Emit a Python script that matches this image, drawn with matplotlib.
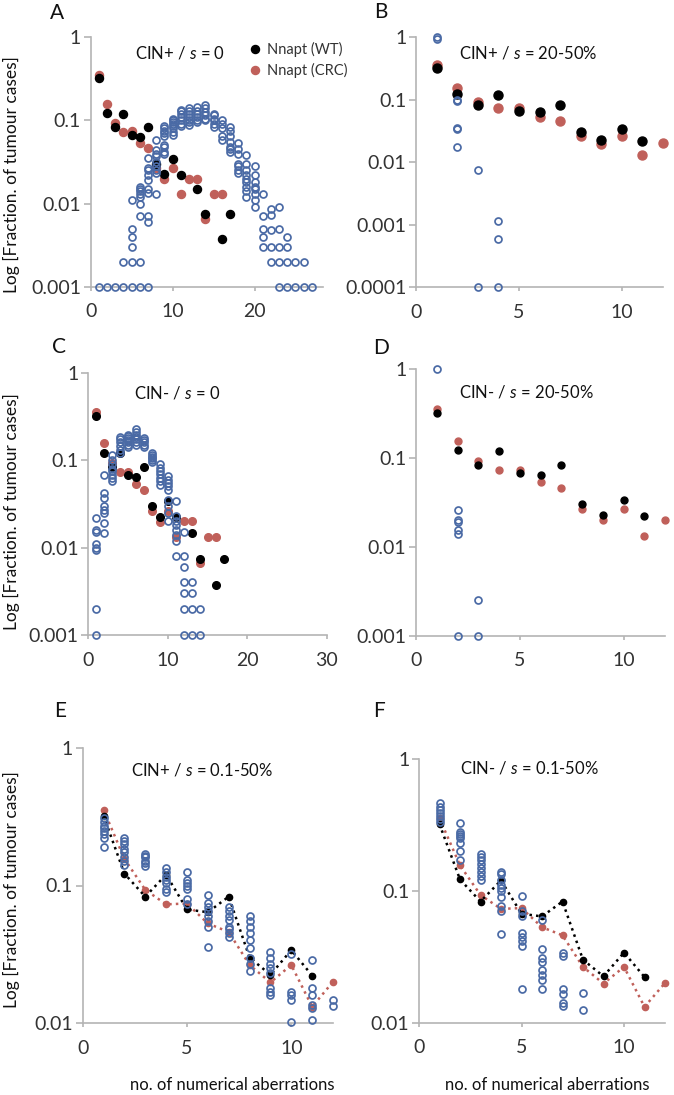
import numpy as np
import matplotlib
matplotlib.use("Agg")
import matplotlib.pyplot as plt
from matplotlib.ticker import FixedLocator, FixedFormatter

plt.rcParams['font.family'] = ['Lato', 'DejaVu Sans']
plt.rcParams['mathtext.fontset'] = 'custom'
plt.rcParams['mathtext.it'] = 'Lato:italic'
plt.rcParams['mathtext.rm'] = 'Lato'

# observed tumour data (same in every panel)
x_wt = [1, 2, 3, 4, 5, 6, 7, 8, 9, 10, 11, 13, 14, 16, 17]
y_wt = [0.32, 0.122, 0.083, 0.12, 0.067, 0.064, 0.083, 0.030, 0.0225, 0.034,
        0.0222, 0.0148, 0.0074, 0.0037, 0.0074]
x_crc = [1, 2, 3, 4, 5, 6, 7, 8, 9, 10, 11, 12, 13, 14, 15, 16]
y_crc = [0.355, 0.156, 0.093, 0.073, 0.074, 0.053, 0.046, 0.0265, 0.0198, 0.0265,
         0.0132, 0.020, 0.020, 0.0066, 0.0132, 0.0132]

# simulated runs, open circles: {no. of aberrations: fractions}
sim_a = {1: [0.001], 2: [0.001], 3: [0.001], 4: [0.001, 0.002],
         5: [0.001, 0.002, 0.003, 0.004, 0.005, 0.011],
         6: [0.001, 0.002, 0.007, 0.010, 0.012, 0.013, 0.014, 0.015, 0.016],
         7: [0.001, 0.006, 0.007, 0.0135, 0.015, 0.019, 0.022, 0.025, 0.027, 0.035],
         8: [0.013, 0.023, 0.025, 0.028, 0.032, 0.037, 0.04, 0.044, 0.058],
         9: [0.04, 0.042, 0.048, 0.05, 0.065, 0.07, 0.075, 0.08, 0.085],
         10: [0.067, 0.072, 0.08, 0.085, 0.09, 0.095, 0.1, 0.105],
         11: [0.085, 0.09, 0.1, 0.11, 0.12, 0.13, 0.135],
         12: [0.088, 0.095, 0.1, 0.11, 0.12, 0.13, 0.14],
         13: [0.095, 0.1, 0.11, 0.12, 0.13, 0.145],
         14: [0.1, 0.105, 0.115, 0.125, 0.14, 0.155],
         15: [0.084, 0.09, 0.1, 0.105, 0.115, 0.12],
         16: [0.058, 0.065, 0.08, 0.09, 0.1],
         17: [0.042, 0.045, 0.048, 0.055, 0.065, 0.075, 0.083],
         18: [0.023, 0.025, 0.028, 0.03, 0.04, 0.045, 0.053],
         19: [0.012, 0.014, 0.016, 0.018, 0.02, 0.022, 0.025, 0.03, 0.038],
         20: [0.009, 0.011, 0.013, 0.015, 0.016, 0.018, 0.022, 0.028],
         21: [0.003, 0.004, 0.005, 0.007, 0.013],
         22: [0.002, 0.003, 0.0048, 0.0073, 0.0087],
         23: [0.001, 0.002, 0.003, 0.005, 0.009],
         24: [0.001, 0.002, 0.003, 0.004],
         25: [0.001, 0.002], 26: [0.001, 0.002], 27: [0.001]}
sim_b = {1: [0.93, 1.0], 2: [0.0176, 0.034, 0.036, 0.095, 0.1],
         3: [0.0001, 0.0075], 4: [0.0001, 0.00059, 0.00114]}
sim_c = {1: [0.001, 0.002, 0.0094, 0.010, 0.011, 0.015, 0.016, 0.022],
         2: [0.0145, 0.019, 0.025, 0.027, 0.03, 0.037, 0.042, 0.067],
         3: [0.058, 0.062, 0.068, 0.075, 0.08, 0.09, 0.1, 0.115],
         4: [0.12, 0.13, 0.145, 0.16, 0.175, 0.185],
         5: [0.14, 0.15, 0.16, 0.17, 0.18, 0.19, 0.195],
         6: [0.15, 0.16, 0.175, 0.185, 0.195, 0.21, 0.225],
         7: [0.14, 0.15, 0.16, 0.17, 0.18],
         8: [0.095, 0.1, 0.105, 0.11, 0.115, 0.12],
         9: [0.052, 0.058, 0.063, 0.07, 0.075, 0.082, 0.09],
         10: [0.02, 0.025, 0.03, 0.035, 0.045, 0.05, 0.055, 0.06, 0.065],
         11: [0.0081, 0.012, 0.014, 0.016, 0.018, 0.02, 0.023, 0.034],
         12: [0.001, 0.002, 0.003, 0.004, 0.006, 0.008, 0.015],
         13: [0.001, 0.002, 0.003, 0.004],
         14: [0.001, 0.002]}
sim_d = {1: [1.0], 2: [0.001, 0.014, 0.0155, 0.019, 0.02, 0.026],
         3: [0.001, 0.0025]}
sim_e = {1: [0.19, 0.22, 0.235, 0.25, 0.26, 0.27, 0.29, 0.31],
         2: [0.14, 0.15, 0.16, 0.175, 0.185, 0.2, 0.21, 0.22],
         3: [0.138, 0.145, 0.15, 0.16, 0.165, 0.17],
         4: [0.09, 0.095, 0.105, 0.11, 0.115, 0.125, 0.135],
         5: [0.074, 0.08, 0.095, 0.1, 0.105, 0.11, 0.125],
         6: [0.036, 0.05, 0.055, 0.06, 0.065, 0.07, 0.075, 0.085],
         7: [0.042, 0.045, 0.048, 0.05, 0.056, 0.06, 0.065, 0.07],
         8: [0.024, 0.027, 0.03, 0.035, 0.04, 0.045, 0.05, 0.055, 0.06],
         9: [0.016, 0.017, 0.018, 0.023, 0.025, 0.027, 0.03, 0.033],
         10: [0.0103, 0.0147, 0.016, 0.017, 0.032],
         11: [0.0105, 0.013, 0.0135, 0.016, 0.018, 0.029],
         12: [0.0133, 0.0147]}
sim_f = {1: [0.33, 0.35, 0.37, 0.39, 0.41, 0.43, 0.46],
         2: [0.17, 0.2, 0.23, 0.25, 0.26, 0.27, 0.28, 0.325],
         3: [0.12, 0.13, 0.14, 0.15, 0.16, 0.17, 0.18, 0.19],
         4: [0.047, 0.07, 0.077, 0.09, 0.1, 0.105, 0.11, 0.12, 0.135, 0.14],
         5: [0.018, 0.038, 0.042, 0.045, 0.048, 0.065, 0.07, 0.092],
         6: [0.018, 0.021, 0.023, 0.025, 0.029, 0.031, 0.036, 0.06],
         7: [0.0134, 0.014, 0.0165, 0.018, 0.032, 0.034],
         8: [0.0125, 0.0168]}

BLACK = '#000000'
RED = '#c0605a'
BLUE = '#4a6aa5'
AXC = '#b4b4b4'

W, H = 674, 1095
fig = plt.figure(figsize=(W / 100, H / 100), dpi=100)


def box(l, r, t, b):
    return [l / W, 1 - b / H, (r - l) / W, (b - t) / H]


# panel: letter, box px, xlim, xticks, ymin, title, title pos, sim, lines, dot size
panels = [
    ('A', box(90.7, 323.3, 37.3, 286.7), 28.4, [0, 10, 20], 0.001,
     'CIN+ / $\\mathit{s}$ = 0', (0.384, 0.937), sim_a, False, 5.8),
    ('B', box(416, 663, 37.3, 287.3), 12, [0, 5, 10], 0.0001,
     'CIN+ / $\\mathit{s}$ = 20-50%', (0.453, 0.937), sim_b, False, 6.5),
    ('C', box(88.3, 327, 372.7, 635), 30, [0, 10, 20, 30], 0.001,
     'CIN- / $\\mathit{s}$ = 0', (0.374, 0.921), sim_c, False, 5.5),
    ('D', box(416, 665, 369, 635.7), 12, [0, 5, 10], 0.001,
     'CIN- / $\\mathit{s}$ = 20-50%', (0.445, 0.915), sim_d, False, 5.0),
    ('E', box(82.7, 333, 747.7, 1023.3), 12, [0, 5, 10], 0.01,
     'CIN+ / $\\mathit{s}$ = 0.1-50%', (0.479, 0.919), sim_e, True, 4.5),
    ('F', box(419, 665, 759, 1022.7), 12, [0, 5, 10], 0.01,
     'CIN- / $\\mathit{s}$ = 0.1-50%', (0.447, 0.965), sim_f, True, 4.5),
]
letter_pos = {'A': (57, 13), 'B': (381, 12), 'C': (59, 347), 'D': (381, 348),
              'E': (60, 711), 'F': (379, 711)}

axes = {}
for letter, rect, xmax, xt, ymin, title, tpos, sim, lines, ms in panels:
    ax = fig.add_axes(rect)
    axes[letter] = ax
    ax.set_yscale('log')
    ax.set_xlim(0, xmax)
    ax.set_ylim(ymin, 1)
    for s in ['top', 'right']:
        ax.spines[s].set_visible(False)
    for s in ['left', 'bottom']:
        ax.spines[s].set_color(AXC)
        ax.spines[s].set_linewidth(1.2)
    decades = [10.0 ** k for k in range(int(round(np.log10(ymin))), 1)]
    ax.yaxis.set_major_locator(FixedLocator(decades))
    ax.yaxis.set_major_formatter(FixedFormatter(['%g' % d for d in decades]))
    ax.yaxis.set_minor_locator(FixedLocator([]))
    ax.set_xticks(xt)
    ax.tick_params(axis='y', length=5, width=1.2, color=AXC, pad=2,
                   labelsize=14, labelcolor='#333333')
    ax.tick_params(axis='x', length=3, width=1.2, color=AXC, pad=9,
                   labelsize=14, labelcolor='#333333')

    wx = np.array(x_wt)
    wy = np.array(y_wt)
    cx = np.array(x_crc)
    cy = np.array(y_crc)
    mw = wx <= xmax
    mc = cx <= xmax
    ls = ':' if lines else 'None'
    ax.plot(cx[mc], cy[mc], linestyle=ls, color=RED, lw=1.8, marker='o',
            ms=ms, mec=RED, mfc=RED, clip_on=False, zorder=3,
            label='Nnapt (CRC)')
    ax.plot(wx[mw], wy[mw], linestyle=ls, color=BLACK, lw=1.8, marker='o',
            ms=ms, mec=BLACK, mfc=BLACK, clip_on=False, zorder=4,
            label='Nnapt (WT)')

    sx = [k for k, v in sim.items() for _ in v]
    sy = [y for v in sim.values() for y in v]
    ax.plot(sx, sy, linestyle='None', marker='o', ms=5, mfc='none', mec=BLUE,
            mew=1.25, clip_on=False, zorder=5)

    ax.text(tpos[0], tpos[1], title, transform=ax.transAxes, ha='center',
            va='center', fontsize=12, color='#111111')
    lx, ly = letter_pos[letter]
    fig.text(lx / W, 1 - ly / H, letter, ha='center', va='center',
             fontsize=15, color='#111111')

# legend in panel A
ha_, la_ = axes['A'].get_legend_handles_labels()
fig.legend([ha_[1], ha_[0]], [la_[1], la_[0]], loc='upper left',
           bbox_to_anchor=(249 / W, 1 - 42 / H), frameon=False, fontsize=10.5,
           handlelength=0.8, handletextpad=0.45, borderpad=0, labelspacing=0.4,
           borderaxespad=0, labelcolor='#333333')

ylab = 'Log [Fraction. of tumour cases]'
for yc in [175, 512, 890]:
    fig.text(11 / W, 1 - yc / H, ylab, rotation=90, ha='center', va='center',
             fontsize=12.5, color='#111111')
for xc in [232, 547]:
    fig.text(xc / W, 1 - 1085 / H, 'no. of numerical aberrations', ha='center',
             va='center', fontsize=12, color='#111111')

fig.savefig('out.png', dpi=100)
